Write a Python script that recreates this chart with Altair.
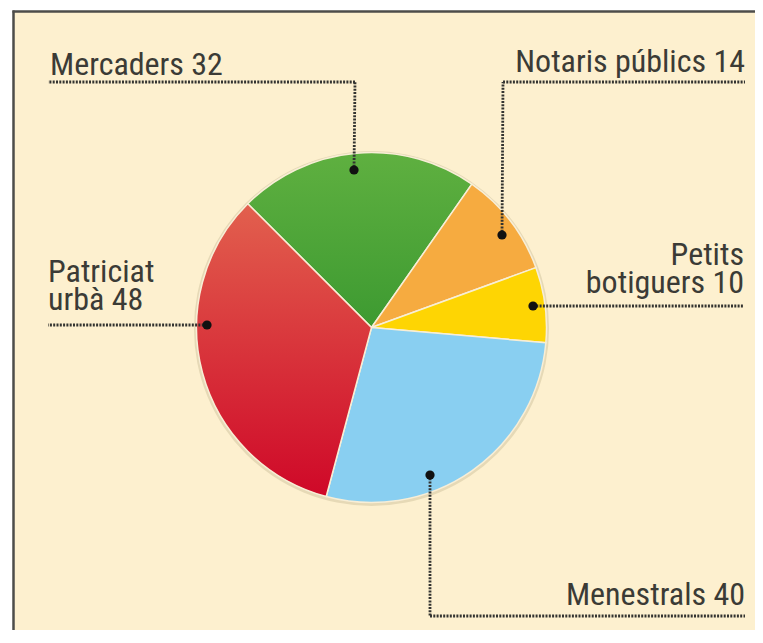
import math
import altair as alt
import pandas as pd

# ---- data ----
categories = ["Mercaders", "Notaris públics", "Petits botiguers", "Menestrals", "Patriciat urbà"]
values = [32, 14, 10, 40, 48]
wrap_label = [False, False, True, False, True]  # break label after first word

# ---- layout / style (chart pixel coords; page = chart + 8) ----
CX, CY, R = 363.5, 319.5, 175
START = 7 * math.pi / 4
FONT = "Liberation Sans Narrow, Roboto Condensed, DejaVu Sans Condensed, Roboto"
TEXT_COLOR = "#3b3b36"
CREAM = "#fdf0cf"
LINE_H = 28

label_pos = {
    "Mercaders": dict(x=42, y=67, align="left"),
    "Notaris públics": dict(x=737, y=64, align="right"),
    "Petits botiguers": dict(x=736, y=257, align="right"),
    "Menestrals": dict(x=737, y=597, align="right"),
    "Patriciat urbà": dict(x=40, y=274, align="left"),
}
# leader polylines: list of (x, y) points, first point is the dot on the slice
leader = {
    "Mercaders": [(346, 162), (347, 74), (40, 74)],
    "Notaris públics": [(494, 227), (495, 74), (737, 74)],
    "Petits botiguers": [(525, 298), (736, 298)],
    "Menestrals": [(422, 467), (422, 608), (737, 608)],
    "Patriciat urbà": [(199, 317), (40, 317)],
}


def grad(top, bottom):
    return alt.Gradient(
        gradient="linear",
        stops=[alt.GradientStop(color=top, offset=0), alt.GradientStop(color=bottom, offset=1)],
        x1=0, x2=0, y1=0, y2=1,
    )


fills = {
    "Mercaders": grad("#5fb040", "#3d9a31"),
    "Notaris públics": "#f6ab40",
    "Petits botiguers": "#fed503",
    "Menestrals": "#89cff1",
    "Patriciat urbà": grad("#e2604e", "#cf0828"),
}

df = pd.DataFrame({"category": categories, "value": values, "order": list(range(len(values)))})

# frame
one = pd.DataFrame({"a": [0]})
frame_bg = alt.Chart(one).mark_rect(fill=CREAM, strokeWidth=0).encode(
    x=alt.value(5), x2=alt.value(760), y=alt.value(3), y2=alt.value(640))
frame_left = alt.Chart(one).mark_rule(color="#4d4d4a", strokeWidth=2.5).encode(
    x=alt.value(5.5), y=alt.value(2.5), y2=alt.value(640))
frame_top = alt.Chart(one).mark_rule(color="#4d4d4a", strokeWidth=2.5).encode(
    x=alt.value(4.5), x2=alt.value(760), y=alt.value(3.5))

shadow = alt.Chart(one).mark_arc(radius=R + 2.5, theta=0, theta2=2 * math.pi, fill="#e6d9b6").encode(
    x=alt.value(CX), y=alt.value(CY + 1))

base = alt.Chart(df).transform_window(
    cum="sum(value)", sort=[alt.SortField("order")], frame=[None, 0]
).transform_calculate(start="datum.cum - datum.value")

theta_scale = alt.Scale(domain=[0, sum(values)], range=[START, START + 2 * math.pi])

slices = []
for cat in categories:
    slices.append(
        base.transform_filter(alt.datum.category == cat)
        .mark_arc(radius=R, fill=fills[cat], stroke="#f8eed6", strokeWidth=1.5)
        .encode(
            theta=alt.Theta("start:Q", scale=theta_scale),
            theta2="cum:Q",
            x=alt.value(CX),
            y=alt.value(CY),
        )
    )

# leader lines as segments
seg_rows = []
dot_rows = []
for cat in categories:
    pts = leader[cat]
    dot_rows.append({"category": cat, "x": pts[0][0], "y": pts[0][1]})
    for (x1, y1), (x2, y2) in zip(pts[:-1], pts[1:]):
        seg_rows.append({"category": cat, "x": x1, "y": y1, "x2": x2, "y2": y2})
segs = alt.Chart(pd.DataFrame(seg_rows)).mark_rule(
    color="#333330", strokeWidth=2.8, strokeDash=[2, 1.3]
).encode(
    x=alt.X("x:Q", scale=None), y=alt.Y("y:Q", scale=None),
    x2="x2:Q", y2="y2:Q",
)
dots = alt.Chart(pd.DataFrame(dot_rows)).mark_circle(size=85, color="#111111", opacity=1).encode(
    x=alt.X("x:Q", scale=None), y=alt.Y("y:Q", scale=None))

# labels: one text row per line
text_rows = []
for cat, val, wrap in zip(categories, values, wrap_label):
    text = f"{cat} {val}"
    lines = text.split(" ", 1) if wrap else [text]
    p = label_pos[cat]
    for i, line in enumerate(lines):
        text_rows.append({"label": line, "x": p["x"], "y": p["y"] + i * LINE_H, "align": p["align"]})
tdf = pd.DataFrame(text_rows)
label_layers = []
for align in ["left", "right"]:
    label_layers.append(
        alt.Chart(tdf[tdf["align"] == align])
        .mark_text(font=FONT, fontSize=32, color=TEXT_COLOR, align=align, baseline="alphabetic")
        .encode(x=alt.X("x:Q", scale=None), y=alt.Y("y:Q", scale=None), text="label:N")
    )

chart = alt.layer(
    frame_bg, frame_left, frame_top, shadow, *slices, segs, dots, *label_layers
).properties(
    width=747, height=622, padding=0, background="white",
    autosize=alt.AutoSizeParams(type="none"),
).configure_view(stroke="transparent", strokeWidth=0)

chart.save("out.html", embed_options={"renderer": "svg", "actions": False})
